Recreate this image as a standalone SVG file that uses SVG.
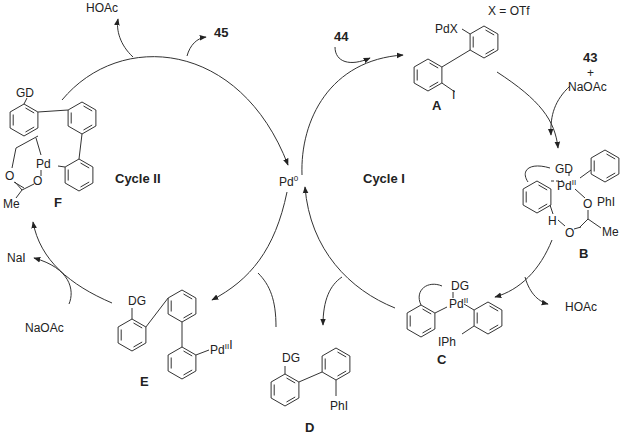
<svg xmlns="http://www.w3.org/2000/svg" width="624" height="436" viewBox="0 0 624 436">
<style>
text{font-family:"Liberation Sans",Arial,sans-serif;font-size:12px;fill:#222}
.b{font-weight:bold;font-size:13px}
.s{font-size:8px}
.l{fill:none;stroke:#333;stroke-width:1}
.a{fill:none;stroke:#333;stroke-width:1;marker-end:url(#ah)}
</style>
<defs>
<marker id="ah" viewBox="0 0 10 10" refX="9" refY="5" markerWidth="7" markerHeight="7" orient="auto"><path d="M0,1 L10,5 L0,9 Z" fill="#222"/></marker>
<g id="ring" class="l">
<path d="M0,-16 L13.9,-8 L13.9,8 L0,16 L-13.9,8 L-13.9,-8 Z"/>
<path d="M1.5,-12 L10.2,-7 M10.2,7 L1.5,12 M-10.8,5.5 L-10.8,-5.5"/>
</g>
</defs>
<g id="connectors">
<path class="a" d="M62,100 C120,30 240,40 288,165"/>
<path class="a" d="M287,192 C275,250 250,280 212,300"/>
<path class="a" d="M112,303 C70,285 40,260 33,222"/>
<path class="a" d="M133,57 C120,45 116,30 118,19"/>
<path class="a" d="M187,56 C190,45 197,38 206,37"/>
<path class="a" d="M69,304 C75,290 70,268 34,258"/>
<path class="a" d="M302,175 C300,120 330,60 403,55"/>
<path class="a" d="M335,47 C335,62 350,67 370,58"/>
<path class="a" d="M497,72 C540,100 555,120 558,148"/>
<path class="a" d="M570,86 C555,100 550,115 551,135"/>
<path class="a" d="M552,240 C540,270 520,290 495,297"/>
<path class="a" d="M525,277 C530,295 540,302 548,304"/>
<path class="a" d="M395,308 C350,290 310,250 305,187"/>
<path class="a" d="M342,277 C330,285 323,300 323,325"/>
<path class="l" d="M258,273 C270,285 276,300 276,327"/>
</g>
<g id="Pd0"><text x="279" y="186">Pd<tspan class="s" dy="-5">0</tspan></text></g>
<g id="labels">
<text class="b" x="115" y="183">Cycle II</text>
<text class="b" x="363" y="183">Cycle I</text>
<text x="86" y="12">HOAc</text>
<text class="b" x="214" y="37">45</text>
<text class="b" x="334" y="41">44</text>
<text x="488" y="15">X = OTf</text>
<text class="b" x="583" y="62">43</text>
<text x="587" y="77">+</text>
<text x="568" y="91">NaOAc</text>
<text x="565" y="311">HOAc</text>
<text x="7" y="262">NaI</text>
<text x="25" y="332">NaOAc</text>
</g>
<g id="A">
<use href="#ring" x="428" y="75"/>
<use href="#ring" x="484" y="42"/>
<path class="l" d="M441.9,67 L470.1,50 M441.9,83 L455,92 M470.1,34 L462,29"/>
<text x="435" y="33">PdX</text>
<text x="452" y="99">I</text>
<text class="b" x="432" y="110">A</text>
</g>
<g id="B">
<use href="#ring" x="537" y="197"/>
<use href="#ring" x="605" y="166"/>
<path class="l" d="M528,182 C520,170 530,162 550,168 M569,173 L569,176 M591,170 L580,178 M575,189 L585,198 M550,205 L553,214 M558,220 L565,226 M579,228 L588,219 L601,228 M588,219 L588,210 M581,227 L574,229"/>
<path class="l" d="M551,181 L563,181" stroke-dasharray="3,2"/>
<text x="555" y="173">GD</text>
<text x="557" y="190">Pd<tspan class="s" dy="-5">II</tspan></text>
<text x="583" y="208">O</text>
<text x="597" y="206">PhI</text>
<text x="548" y="225">H</text>
<text x="565" y="237">O</text>
<text x="602" y="236">Me</text>
<text class="b" x="579" y="258">B</text>
</g>
<g id="C">
<use href="#ring" x="421" y="321"/>
<use href="#ring" x="488" y="318"/>
<path class="l" d="M421,305 C414,290 428,280 442,286 M453,292 L453,298 M435,313 L447,307 M474,310 L464,304 M474,326 L462,334"/>
<text x="451" y="290">DG</text>
<text x="449" y="308">Pd<tspan class="s" dy="-5">II</tspan></text>
<text x="438" y="346">IPh</text>
<text class="b" x="437" y="364">C</text>
</g>
<g id="D">
<use href="#ring" x="285" y="390"/>
<use href="#ring" x="336" y="364"/>
<path class="l" d="M285,374 L285,366 M298.9,382 L322.1,372 M336,380 L336,396"/>
<text x="282" y="362">DG</text>
<text x="330" y="410">PhI</text>
<text class="b" x="305" y="432">D</text>
</g>
<g id="E">
<use href="#ring" x="132" y="335"/>
<use href="#ring" x="182" y="306"/>
<use href="#ring" x="182" y="363"/>
<path class="l" d="M132,319 L132,308 M145.9,327 L168.1,298 M182,322 L182,347 M195.9,355 L209,350"/>
<text x="128" y="305">DG</text>
<text x="210" y="354">Pd<tspan class="s" dy="-5">II</tspan>I</text>
<text class="b" x="140" y="386">E</text>
</g>
<g id="F">
<use href="#ring" x="24" y="120"/>
<use href="#ring" x="82" y="118"/>
<use href="#ring" x="79" y="175"/>
<path class="l" d="M37.9,112 L68.1,110 M82,134 L79,159 M24,104 L27,98 M38,136 L16,148 L12,168 M36,138 L41,155 M41,170 L41,176 M58,166 L65,167 M15,182 L22,190 L34,184 M22,190 L16,198 M24,188 L14,182"/>
<text x="16" y="97">GD</text>
<text x="36" y="168">Pd</text>
<text x="5" y="180">O</text>
<text x="33" y="185">O</text>
<text x="3" y="208">Me</text>
<text class="b" x="54" y="207">F</text>
</g>
</svg>
